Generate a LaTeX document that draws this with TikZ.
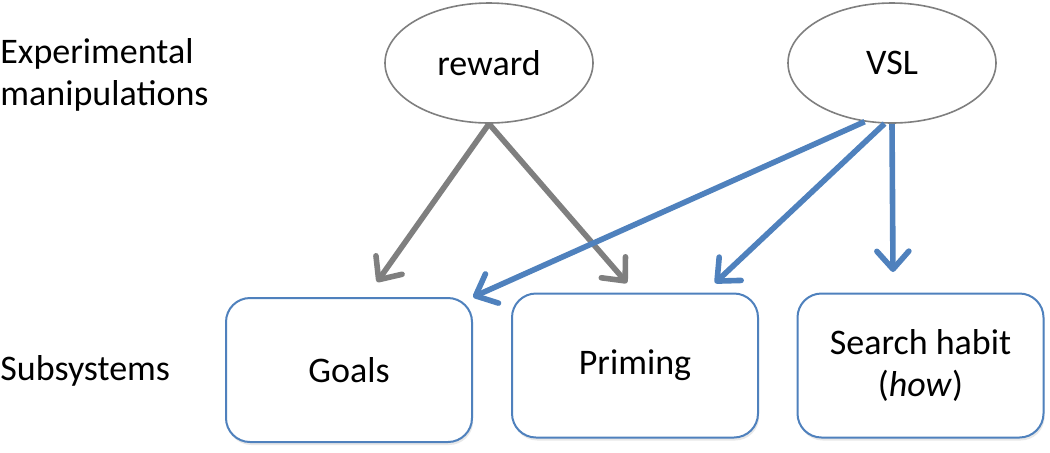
\documentclass[tikz,border=0pt]{standalone}
\usepackage{fontspec}
\setmainfont{Carlito}
\usetikzlibrary{arrows.meta,shapes.geometric,shadows}
\definecolor{ppblue}{RGB}{79,129,189}
\definecolor{ppgray}{RGB}{127,127,127}

\begin{document}
\begin{tikzpicture}[x=0.5pt,y=-0.5pt,
  every node/.style={font=\fontsize{18pt}{21pt}\selectfont},
  manip/.style={ellipse,draw=ppgray,line width=0.8pt,minimum width=104pt,minimum height=60pt,inner sep=0pt},
  subsys/.style={rectangle,rounded corners=12pt,draw=ppblue,line width=1pt,fill=white,
    minimum width=123pt,minimum height=72pt,align=center,
    drop shadow={opacity=0.18,shadow xshift=0.6pt,shadow yshift=-1.5pt}},
  garrow/.style={line width=2.8pt,ppgray,-{Straight Barb[length=9pt,width=16pt,round]}},
  barrow/.style={garrow,ppblue}]
  \useasboundingbox (0,0) rectangle (1050,452);

  % row labels
  \node[anchor=west,inner sep=0pt,align=left] (lexp) at (0,75) {Experimental\\manipulations};
  \node[anchor=base west,inner sep=0pt] (lsub) at (0,380) {Subsystems};

  % manipulations
  \node[manip] (reward) at (489,63) {reward};
  \node[manip] (vsl) at (892,63) {VSL};

  % subsystems
  \node[subsys] (goals) at (349,370) {Goals};
  \node[subsys] (priming) at (635,365.5) {Priming};
  \node[subsys] (search) at (920.5,365.5) {Search habit\\(\textit{how})};

  % arrow tips
  \coordinate (rg) at (377,282);
  \coordinate (rp) at (627,283);
  \coordinate (vp) at (715,283);
  \coordinate (vs) at (893,272);

  \draw[garrow] (reward.south) -- (rg);
  \draw[garrow] (reward.south) -- (rp);
  \draw[barrow] (vsl.245) -- (goals.north east);
  \draw[barrow] (vsl.263) -- (vp);
  \draw[barrow] (vsl.south) -- (vs);
\end{tikzpicture}
\end{document}
